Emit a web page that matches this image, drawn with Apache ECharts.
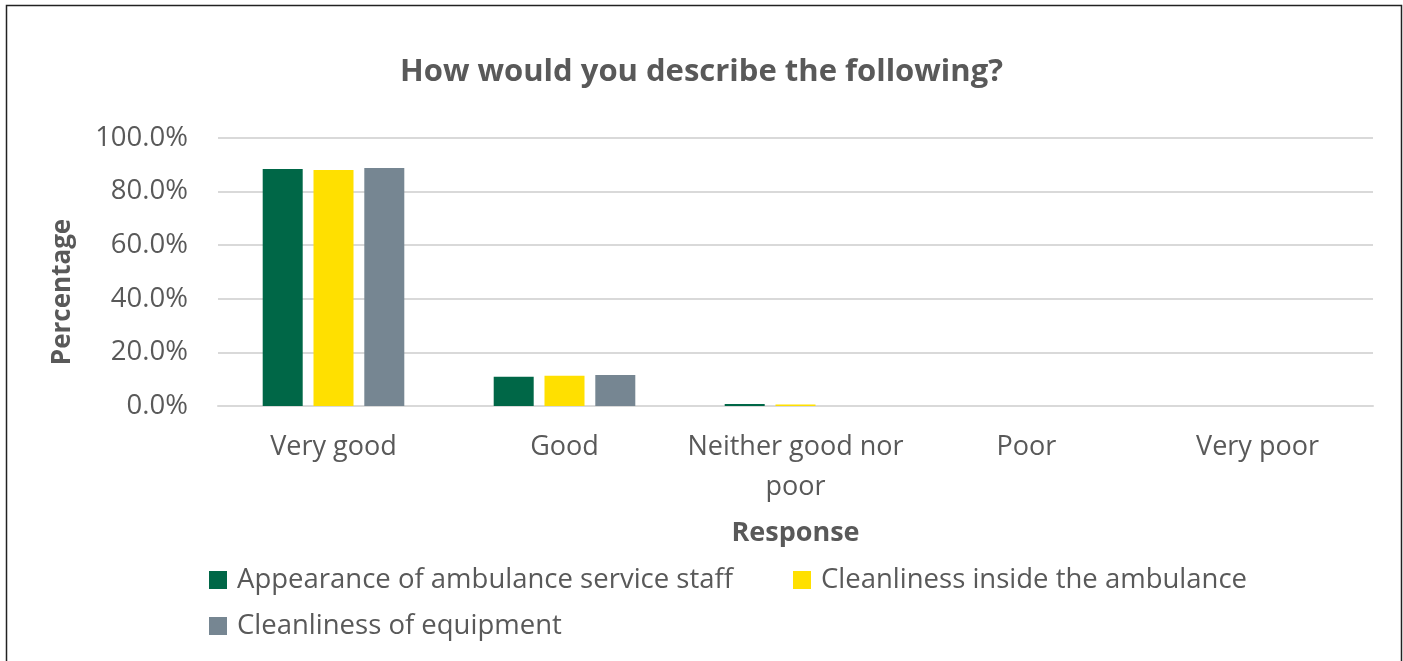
<!DOCTYPE html>
<html>
<head>
<meta charset="utf-8">
<script src="https://cdn.jsdelivr.net/npm/echarts@6/dist/echarts.min.js"></script>
<style>
  html, body { margin: 0; padding: 0; background: #fff; }
  #chart { width: 1403px; height: 661px; }
</style>
</head>
<body>
<div id="chart"></div>
<script>
// Survey responses by rating, share of respondents (%)
const categories = ['Very good', 'Good', 'Neither good nor\npoor', 'Poor', 'Very poor'];
const seriesNames = [
  'Appearance of ambulance service staff',
  'Cleanliness inside the ambulance',
  'Cleanliness of equipment'
];
const staffAppearance = [88.4, 10.9, 0.7, 0, 0];
const ambulanceCleanliness = [88.1, 11.3, 0.6, 0, 0];
const equipmentCleanliness = [88.8, 11.6, 0, 0, 0];
const yTicks = [0, 20, 40, 60, 80, 100];

const colors = ['#006747', '#FFE000', '#768692'];
const font = '"Open Sans", "Noto Sans", sans-serif';
const textColor = '#595959';

const chart = echarts.init(document.getElementById('chart'), null, { renderer: 'canvas' });

const values = [staffAppearance, ambulanceCleanliness, equipmentCleanliness];

const legendText = { fontFamily: font, fontSize: 27.5, color: textColor, padding: [0, 0, 0, 5] };
const legendBase = { padding: 0, itemWidth: 18, itemHeight: 18, itemGap: 10, textStyle: legendText, icon: 'rect' };

chart.setOption({
  animation: false,
  color: colors,
  title: {
    text: 'How would you describe the following?',
    left: 'center',
    top: 52,
    textStyle: { fontFamily: font, fontSize: 31, fontWeight: 'bold', color: textColor }
  },
  legend: [
    Object.assign({ data: [seriesNames[0]], left: 209, top: 566 }, legendBase),
    Object.assign({ data: [seriesNames[1]], left: 793, top: 566 }, legendBase),
    Object.assign({ data: [seriesNames[2]], left: 209, top: 612 }, legendBase)
  ],
  grid: { left: 218, right: 30, top: 138, bottom: 255, containLabel: false },
  xAxis: {
    type: 'category',
    data: categories,
    name: 'Response',
    nameLocation: 'middle',
    nameGap: 114,
    nameTextStyle: { fontFamily: font, fontSize: 27, fontWeight: 'bold', color: textColor },
    axisLine: { lineStyle: { color: '#d9d9d9', width: 2 } },
    axisTick: { show: false },
    axisLabel: { interval: 0, fontFamily: font, fontSize: 27, color: textColor, margin: 21, lineHeight: 40 }
  },
  yAxis: {
    type: 'value',
    min: yTicks[0],
    max: yTicks[yTicks.length - 1],
    interval: yTicks[1] - yTicks[0],
    name: 'Percentage',
    nameLocation: 'middle',
    nameGap: 142,
    nameTextStyle: { fontFamily: font, fontSize: 26, fontWeight: 'bold', color: textColor, padding: [0, 40, 0, 0] },
    axisLine: { show: false },
    axisTick: { show: false },
    axisLabel: {
      fontFamily: font, fontSize: 27.5, color: textColor, margin: 30,
      formatter: v => v.toFixed(1) + '%'
    },
    splitLine: { lineStyle: { color: '#d9d9d9', width: 2 } }
  },
  series: seriesNames.map((name, i) => ({
    name,
    type: 'bar',
    data: values[i],
    barWidth: 40,
    barGap: '27%',
    itemStyle: { color: colors[i] }
  })),
  graphic: [{
    type: 'rect',
    silent: true,
    shape: { x: 6.5, y: 5.5, width: 1395, height: 700 },
    style: { fill: null, stroke: '#222', lineWidth: 1.5 }
  }]
});
</script>
</body>
</html>
